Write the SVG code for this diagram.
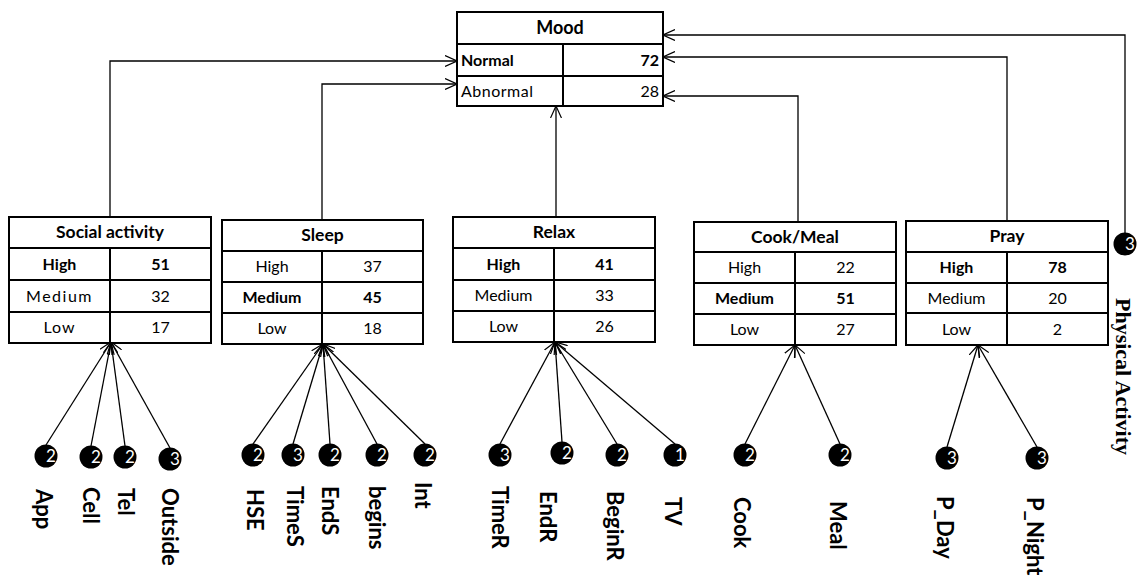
<svg xmlns="http://www.w3.org/2000/svg" width="1137" height="580" viewBox="0 0 1137 580">
<defs>
<marker id="arr" viewBox="0 0 12 12" refX="12" refY="6" markerWidth="12" markerHeight="12" orient="auto" markerUnits="userSpaceOnUse"><path d="M0,0.5 L12,6 L0,11.5" fill="none" stroke="#000" stroke-width="1.2"/></marker>
<style>
.box{fill:#fff;stroke:#000;stroke-width:2}
.ln{stroke:#000;stroke-width:2}
.t{font-family:Lato,"Open Sans",sans-serif;font-size:16px;fill:#000;text-anchor:middle}
.b{font-weight:bold}
.ttl{font-family:Lato,"Open Sans",sans-serif;font-size:17.5px;font-weight:bold;text-anchor:middle}
.c{stroke:#000;stroke-width:1.3;fill:none;marker-end:url(#arr)}
.leaf{fill:#000}
.num{font-family:Lato,"Open Sans",sans-serif;font-size:17px;fill:#fff;text-anchor:middle}
.lbl{font-family:Lato,"Open Sans",sans-serif;font-size:22px;font-weight:bold;fill:#000}
</style>
</defs>
<rect width="1137" height="580" fill="#fff"/>

<g id="connectors">
<polyline class="c" points="110,217 110,61 457,61"/>
<polyline class="c" points="322,220 322,84 457,84"/>
<polyline class="c" points="556,217 556,106"/>
<polyline class="c" points="798,222 798,96 663,96"/>
<polyline class="c" points="1007,221 1007,57 663,57"/>
<polyline class="c" points="1125,233 1125,35 663,35"/>
<line class="c" x1="46" y1="445" x2="111" y2="342"/>
<line class="c" x1="91" y1="446" x2="111" y2="342"/>
<line class="c" x1="125" y1="446" x2="111" y2="342"/>
<line class="c" x1="170" y1="448" x2="111" y2="342"/>
<line class="c" x1="253" y1="444" x2="323" y2="344"/>
<line class="c" x1="293" y1="444" x2="323" y2="344"/>
<line class="c" x1="330" y1="444" x2="323" y2="344"/>
<line class="c" x1="377" y1="444" x2="323" y2="344"/>
<line class="c" x1="425" y1="444" x2="323" y2="344"/>
<line class="c" x1="500" y1="444" x2="555" y2="342"/>
<line class="c" x1="562" y1="442" x2="555" y2="342"/>
<line class="c" x1="617" y1="444" x2="555" y2="342"/>
<line class="c" x1="675" y1="444" x2="555" y2="342"/>
<line class="c" x1="745" y1="444" x2="795" y2="345"/>
<line class="c" x1="840" y1="444" x2="795" y2="345"/>
<line class="c" x1="947" y1="447" x2="978" y2="345"/>
<line class="c" x1="1037" y1="447" x2="978" y2="345"/>
</g>

<g id="mood">
<rect class="box" x="457" y="12" width="206" height="94"/>
<line class="ln" x1="457" y1="44" x2="663" y2="44"/>
<line class="ln" x1="457" y1="76" x2="663" y2="76"/>
<line class="ln" x1="563" y1="44" x2="563" y2="106"/>
<text class="ttl" x="560" y="34" style="font-size:18px">Mood</text>
<text class="t b" x="461" y="66" style="text-anchor:start">Normal</text>
<text class="t b" x="659" y="66" style="text-anchor:end">72</text>
<text class="t" x="461" y="97" style="text-anchor:start;letter-spacing:0.5px">Abnormal</text>
<text class="t" x="659" y="97" style="text-anchor:end">28</text>
</g>

<g id="social">
<rect class="box" x="9" y="217" width="202" height="126"/>
<line class="ln" x1="9" y1="248" x2="211" y2="248"/>
<line class="ln" x1="9" y1="280" x2="211" y2="280"/>
<line class="ln" x1="9" y1="312" x2="211" y2="312"/>
<line class="ln" x1="110" y1="248" x2="110" y2="343"/>
<text class="ttl" x="110" y="238">Social activity</text>
<text class="t b" x="59.5" y="270">High</text>
<text class="t b" x="160.5" y="270">51</text>
<text class="t" x="59.5" y="302" style="letter-spacing:1.5px">Medium</text>
<text class="t" x="160.5" y="302">32</text>
<text class="t" x="59.5" y="333" style="letter-spacing:1px">Low</text>
<text class="t" x="160.5" y="333">17</text>
</g>

<g id="sleep">
<rect class="box" x="222" y="220" width="201" height="124"/>
<line class="ln" x1="222" y1="251" x2="423" y2="251"/>
<line class="ln" x1="222" y1="282" x2="423" y2="282"/>
<line class="ln" x1="222" y1="313" x2="423" y2="313"/>
<line class="ln" x1="322" y1="251" x2="322" y2="344"/>
<text class="ttl" x="322.5" y="241">Sleep</text>
<text class="t" x="272" y="272">High</text>
<text class="t" x="372.5" y="272">37</text>
<text class="t b" x="272" y="303">Medium</text>
<text class="t b" x="372.5" y="303">45</text>
<text class="t" x="272" y="334">Low</text>
<text class="t" x="372.5" y="334">18</text>
</g>

<g id="relax">
<rect class="box" x="453" y="217" width="202" height="125"/>
<line class="ln" x1="453" y1="248" x2="655" y2="248"/>
<line class="ln" x1="453" y1="280" x2="655" y2="280"/>
<line class="ln" x1="453" y1="311" x2="655" y2="311"/>
<line class="ln" x1="554" y1="248" x2="554" y2="342"/>
<text class="ttl" x="554" y="238">Relax</text>
<text class="t b" x="503.5" y="270">High</text>
<text class="t b" x="604.5" y="270">41</text>
<text class="t" x="503.5" y="301">Medium</text>
<text class="t" x="604.5" y="301">33</text>
<text class="t" x="503.5" y="332">Low</text>
<text class="t" x="604.5" y="332">26</text>
</g>

<g id="cookmeal">
<rect class="box" x="694" y="222" width="202" height="123"/>
<line class="ln" x1="694" y1="252" x2="896" y2="252"/>
<line class="ln" x1="694" y1="283" x2="896" y2="283"/>
<line class="ln" x1="694" y1="314" x2="896" y2="314"/>
<line class="ln" x1="795" y1="252" x2="795" y2="345"/>
<text class="ttl" x="795" y="243">Cook/Meal</text>
<text class="t" x="744.5" y="273">High</text>
<text class="t" x="845.5" y="273">22</text>
<text class="t b" x="744.5" y="304">Medium</text>
<text class="t b" x="845.5" y="304">51</text>
<text class="t" x="744.5" y="335">Low</text>
<text class="t" x="845.5" y="335">27</text>
</g>

<g id="pray">
<rect class="box" x="906" y="221" width="202" height="124"/>
<line class="ln" x1="906" y1="252" x2="1108" y2="252"/>
<line class="ln" x1="906" y1="283" x2="1108" y2="283"/>
<line class="ln" x1="906" y1="313" x2="1108" y2="313"/>
<line class="ln" x1="1007" y1="252" x2="1007" y2="345"/>
<text class="ttl" x="1007" y="242">Pray</text>
<text class="t b" x="956.5" y="273">High</text>
<text class="t b" x="1057.5" y="273">78</text>
<text class="t" x="956.5" y="304">Medium</text>
<text class="t" x="1057.5" y="304">20</text>
<text class="t" x="956.5" y="335">Low</text>
<text class="t" x="1057.5" y="335">2</text>
</g>

<g id="leaf-app"><circle class="leaf" cx="46" cy="456" r="11.5"/><text class="num" x="51" y="462">2</text><text class="lbl" transform="translate(36,489) rotate(90)">App</text></g>
<g id="leaf-cell"><circle class="leaf" cx="91" cy="457" r="11.5"/><text class="num" x="96" y="463">2</text><text class="lbl" transform="translate(83,487) rotate(90)">Cell</text></g>
<g id="leaf-tel"><circle class="leaf" cx="125" cy="457" r="11.5"/><text class="num" x="130" y="463">2</text><text class="lbl" transform="translate(118,488) rotate(90)">Tel</text></g>
<g id="leaf-outside"><circle class="leaf" cx="170" cy="459" r="11.5"/><text class="num" x="175" y="465">3</text><text class="lbl" transform="translate(162,488) rotate(90)">Outside</text></g>

<g id="leaf-hse"><circle class="leaf" cx="253" cy="455" r="11.5"/><text class="num" x="258" y="461">2</text><text class="lbl" transform="translate(247,489) rotate(90)">HSE</text></g>
<g id="leaf-times"><circle class="leaf" cx="293" cy="455" r="11.5"/><text class="num" x="298" y="461">3</text><text class="lbl" transform="translate(287,486) rotate(90)">TimeS</text></g>
<g id="leaf-ends"><circle class="leaf" cx="330" cy="455" r="11.5"/><text class="num" x="335" y="461">2</text><text class="lbl" transform="translate(322,486) rotate(90)">EndS</text></g>
<g id="leaf-begins"><circle class="leaf" cx="377" cy="455" r="11.5"/><text class="num" x="382" y="461">2</text><text class="lbl" transform="translate(369,486) rotate(90)">begins</text></g>
<g id="leaf-int"><circle class="leaf" cx="425" cy="455" r="11.5"/><text class="num" x="430" y="461">2</text><text class="lbl" transform="translate(415,482) rotate(90)">Int</text></g>

<g id="leaf-timer"><circle class="leaf" cx="500" cy="455" r="11.5"/><text class="num" x="505" y="461">3</text><text class="lbl" transform="translate(492,486) rotate(90)">TimeR</text></g>
<g id="leaf-endr"><circle class="leaf" cx="562" cy="453" r="11.5"/><text class="num" x="567" y="459">2</text><text class="lbl" transform="translate(540,491) rotate(90)">EndR</text></g>
<g id="leaf-beginr"><circle class="leaf" cx="617" cy="455" r="11.5"/><text class="num" x="622" y="461">2</text><text class="lbl" transform="translate(607,491) rotate(90)">BeginR</text></g>
<g id="leaf-tv"><circle class="leaf" cx="675" cy="455" r="11.5"/><text class="num" x="680" y="461">1</text><text class="lbl" transform="translate(665,497) rotate(90)">TV</text></g>

<g id="leaf-cook"><circle class="leaf" cx="745" cy="455" r="11.5"/><text class="num" x="750" y="461">2</text><text class="lbl" transform="translate(734,497) rotate(90)">Cook</text></g>
<g id="leaf-meal"><circle class="leaf" cx="840" cy="455" r="11.5"/><text class="num" x="845" y="461">2</text><text class="lbl" transform="translate(830,501) rotate(90)">Meal</text></g>

<g id="leaf-pday"><circle class="leaf" cx="947" cy="458" r="11.5"/><text class="num" x="952" y="464">3</text><text class="lbl" transform="translate(937,496) rotate(90)">P_Day</text></g>
<g id="leaf-pnight"><circle class="leaf" cx="1037" cy="458" r="11.5"/><text class="num" x="1042" y="464">3</text><text class="lbl" transform="translate(1027,497) rotate(90)">P_Night</text></g>

<g id="leaf-physical"><circle class="leaf" cx="1125" cy="244" r="11.5"/><text class="num" x="1130" y="250">3</text><text transform="translate(1116,298) rotate(90)" style="font-family:'Liberation Serif',serif;font-size:22px;font-weight:bold">Physical Activity</text></g>
</svg>
